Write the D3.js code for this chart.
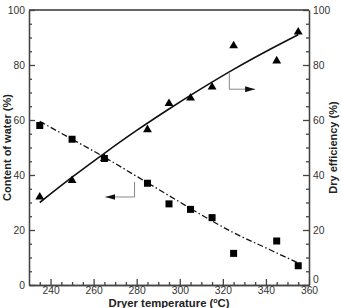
<!DOCTYPE html>
<html>
<head>
<meta charset="utf-8">
<script src="https://cdn.jsdelivr.net/npm/d3@7"></script>
<style>
  body { margin: 0; background: #fff; }
  text { font-family: "Liberation Sans", Arial, sans-serif; }
</style>
</head>
<body>
<div id="chart"></div>
<script>
// measured points
const temps = [235, 250, 265, 285, 295, 305, 315, 325, 345, 355];
const waterContent = [58, 53, 46, 37, 29.5, 27.5, 24.5, 11.5, 16, 7];
const dryEfficiency = [32, 38, 46, 56.5, 66, 68, 72, 87, 81.5, 92];

// fitted curves
const fitTemps = [235, 250, 265, 280, 295, 310, 325, 340, 355];
const waterFit = [59.5, 53, 46.5, 39.5, 32.5, 25.5, 19, 13.5, 8];
const efficiencyFit = [30, 39.2, 47.9, 56.2, 64, 71.4, 78.4, 84.9, 91];

const xTicks = [240, 260, 280, 300, 320, 340, 360];
const yTicks = [0, 20, 40, 60, 80, 100];

const width = 341, height = 308;
const margin = {top: 10, right: 32, bottom: 23, left: 29};

const svg = d3.select("#chart").append("svg")
    .attr("width", width)
    .attr("height", height);

const x = d3.scaleLinear().domain([230, 360]).range([margin.left, width - margin.right]);
const y = d3.scaleLinear().domain([0, 100]).range([height - margin.bottom, margin.top]);

const axisColor = "#444";

// top border
svg.append("line")
    .attr("x1", x(230)).attr("x2", x(360))
    .attr("y1", y(100)).attr("y2", y(100))
    .attr("stroke", "#666").attr("stroke-width", 2.2);

// minor ticks
const minorX = d3.range(235, 360, 5).filter(v => v % 20 !== 0);
const minorY = d3.range(5, 100, 5).filter(v => v % 20 !== 0);

function styleAxis(g) {
    g.selectAll("path").attr("stroke", axisColor).attr("stroke-width", 1.3);
    g.selectAll("line").attr("stroke", axisColor).attr("stroke-width", 1.3);
    g.selectAll("text").attr("fill", "#333").style("font-size", "10.3px");
}

// bottom axis
svg.append("g")
    .attr("transform", `translate(0,${y(0)})`)
    .call(d3.axisBottom(x).tickValues(minorX).tickSize(-3).tickFormat("").tickSizeOuter(0))
    .call(styleAxis);
svg.append("g")
    .attr("transform", `translate(0,${y(0)})`)
    .call(d3.axisBottom(x).tickValues(xTicks).tickSize(-6).tickPadding(2).tickSizeOuter(0))
    .call(styleAxis);

// left axis
svg.append("g")
    .attr("transform", `translate(${x(230)},0)`)
    .call(d3.axisLeft(y).tickValues(minorY).tickSize(-3).tickFormat("").tickSizeOuter(0))
    .call(styleAxis);
svg.append("g")
    .attr("transform", `translate(${x(230)},0)`)
    .call(d3.axisLeft(y).tickValues(yTicks).tickSize(-6).tickPadding(4).tickSizeOuter(0))
    .call(styleAxis);

// right axis
svg.append("g")
    .attr("transform", `translate(${x(360)},0)`)
    .call(d3.axisRight(y).tickValues(minorY).tickSize(-3).tickFormat("").tickSizeOuter(0))
    .call(styleAxis);
svg.append("g")
    .attr("transform", `translate(${x(360)},0)`)
    .call(d3.axisRight(y).tickValues(yTicks).tickSize(-6).tickPadding(4).tickSizeOuter(0))
    .call(styleAxis)
    .call(g => g.selectAll(".tick text").filter(d => d === 0).attr("dy", "-0.25em"));

// fit lines
const line = d3.line().curve(d3.curveMonotoneX);

svg.append("path")
    .attr("d", line(fitTemps.map((t, i) => [x(t), y(efficiencyFit[i])])))
    .attr("fill", "none").attr("stroke", "#111").attr("stroke-width", 1.6);

svg.append("path")
    .attr("d", line(fitTemps.map((t, i) => [x(t), y(waterFit[i])])))
    .attr("fill", "none").attr("stroke", "#111").attr("stroke-width", 1.3)
    .attr("stroke-dasharray", "6,2.5,1.5,2.5");

// markers
svg.selectAll(".sq")
    .data(temps)
    .enter().append("rect")
    .attr("class", "sq")
    .attr("x", (d) => x(d) - 3.5)
    .attr("y", (d, i) => y(waterContent[i]) - 3.5)
    .attr("width", 7).attr("height", 7)
    .attr("fill", "#000");

const tri = d3.symbol().type(d3.symbolTriangle).size(34);
svg.selectAll(".tri")
    .data(temps)
    .enter().append("path")
    .attr("class", "tri")
    .attr("d", tri)
    .attr("transform", (d, i) => `translate(${x(d)},${y(dryEfficiency[i])})`)
    .attr("fill", "#000");

// arrows pointing to the matching axis
svg.append("defs").append("marker")
    .attr("id", "head")
    .attr("viewBox", "0 0 10 6")
    .attr("refX", 10).attr("refY", 3)
    .attr("markerWidth", 10).attr("markerHeight", 6)
    .attr("markerUnits", "userSpaceOnUse")
    .attr("orient", "auto")
    .append("path").attr("d", "M0,0L10,3L0,6Z").attr("fill", "#111");

const arrows = [
    {pts: [[279, 37.5], [279, 32], [265.5, 32]]},
    {pts: [[323, 77.3], [323, 71.2], [335, 71.2]]}
];
svg.selectAll(".arrow")
    .data(arrows)
    .enter().append("path")
    .attr("class", "arrow")
    .attr("d", d => d3.line()(d.pts.map(p => [x(p[0]), y(p[1])])))
    .attr("fill", "none").attr("stroke", "#888").attr("stroke-width", 1)
    .attr("marker-end", "url(#head)");

// axis titles
svg.append("text")
    .attr("transform", `translate(11,${y(50)}) rotate(-90)`)
    .attr("text-anchor", "middle")
    .style("font-size", "11px").style("font-weight", "bold")
    .attr("fill", "#222")
    .text("Content of water (%)");

svg.append("text")
    .attr("transform", `translate(337,${y(50)}) rotate(-90)`)
    .attr("text-anchor", "middle")
    .style("font-size", "11px").style("font-weight", "bold")
    .attr("fill", "#222")
    .text("Dry efficiency (%)");

const xt = svg.append("text")
    .attr("x", x(295)).attr("y", 306.5)
    .attr("text-anchor", "middle")
    .style("font-size", "11.3px").style("font-weight", "bold")
    .attr("fill", "#222");
xt.append("tspan").text("Dryer temperature (");
xt.append("tspan").attr("dy", -4).style("font-size", "7px").text("o");
xt.append("tspan").attr("dy", 4).text("C)");
</script>
</body>
</html>
